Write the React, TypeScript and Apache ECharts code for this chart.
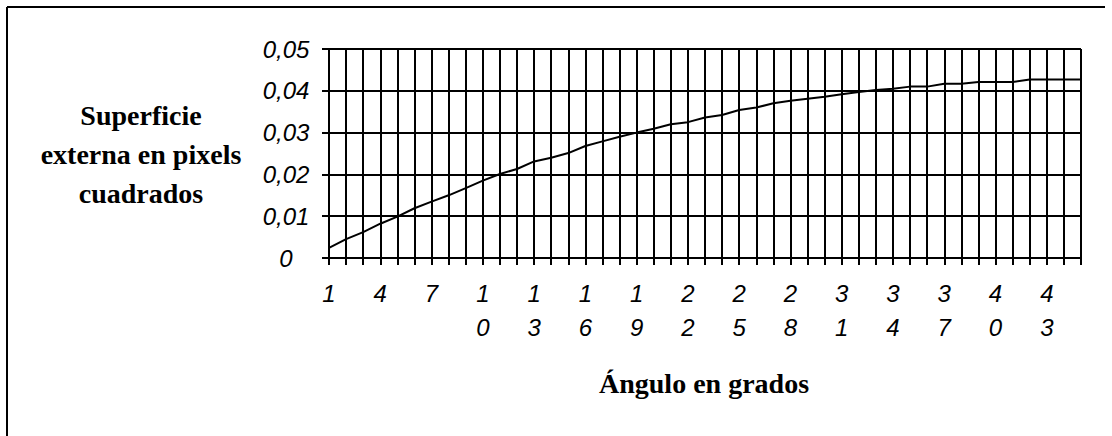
import React, { useEffect, useRef } from "react";
import * as echarts from "echarts";

// Angle in degrees (category axis)
const angles = [
  1, 2, 3, 4, 5, 6, 7, 8, 9, 10, 11, 12, 13, 14, 15, 16, 17, 18, 19, 20, 21, 22,
  23, 24, 25, 26, 27, 28, 29, 30, 31, 32, 33, 34, 35, 36, 37, 38, 39, 40, 41, 42,
  43, 44, 45,
];

// External surface in square pixels for each angle
const surface = [
  0.0024, 0.0045, 0.0062, 0.0082, 0.0099, 0.0119, 0.0135, 0.015, 0.0167, 0.0185,
  0.0201, 0.0213, 0.0231, 0.024, 0.0251, 0.0268, 0.0279, 0.029, 0.03, 0.0309,
  0.032, 0.0325, 0.0336, 0.0342, 0.0354, 0.036, 0.037, 0.0376, 0.0381, 0.0386,
  0.0392, 0.0397, 0.0402, 0.0405, 0.041, 0.041, 0.0417, 0.0417, 0.0421, 0.0421,
  0.0421, 0.0427, 0.0427, 0.0427, 0.0427,
];

// Y axis tick labels (decimal comma)
const yTickLabels = ["0", "0,01", "0,02", "0,03", "0,04", "0,05"];

const yTitle = "Superficie\nexterna en pixels\ncuadrados";
const xTitle = "Ángulo en grados";

const tickFont = "'Liberation Sans', Arial, sans-serif";
const titleFont = "'Liberation Serif', 'Times New Roman', serif";

export default function App() {
  const ref = useRef<HTMLDivElement>(null);

  useEffect(() => {
    if (!ref.current) return;
    const chart = echarts.init(ref.current, undefined, { renderer: "svg" });
    const black = "#000";
    chart.setOption({
      animation: false,
      backgroundColor: "#fff",
      grid: { left: 329, right: 31, top: 49, height: 209, containLabel: false },
      xAxis: {
        type: "category",
        data: angles.map(String),
        boundaryGap: false,
        axisLine: { show: true, lineStyle: { color: black, width: 2 } },
        axisTick: { show: true, interval: 0, length: 7, lineStyle: { color: black, width: 2 } },
        axisLabel: {
          interval: 2,
          margin: 18,
          color: black,
          fontFamily: tickFont,
          fontStyle: "italic",
          fontSize: 24,
          lineHeight: 34,
          formatter: (v: string) => v.split("").join("\n"),
        },
        splitLine: { show: true, interval: 0, lineStyle: { color: black, width: 2 } },
      },
      yAxis: {
        type: "value",
        min: 0,
        max: 0.05,
        interval: 0.01,
        axisLine: { show: true, lineStyle: { color: black, width: 2 } },
        axisTick: { show: true, length: 7, lineStyle: { color: black, width: 2 } },
        axisLabel: {
          margin: 43,
          align: "center",
          color: black,
          fontFamily: tickFont,
          fontStyle: "italic",
          fontSize: 24,
          formatter: (_v: number, i: number) => yTickLabels[i],
        },
        splitLine: { show: true, lineStyle: { color: black, width: 2 } },
      },
      series: [
        {
          type: "line",
          data: surface,
          symbol: "none",
          lineStyle: { color: black, width: 2 },
        },
      ],
      graphic: [
        {
          type: "line",
          shape: { x1: 7, y1: 7, x2: 1105, y2: 7 },
          style: { stroke: black, lineWidth: 2 },
        },
        {
          type: "line",
          shape: { x1: 7, y1: 7, x2: 7, y2: 436 },
          style: { stroke: black, lineWidth: 2 },
        },
        {
          type: "text",
          x: 141,
          y: 154,
          style: {
            text: yTitle,
            fill: black,
            font: `bold 28px ${titleFont}`,
            lineHeight: 39,
            align: "center",
            verticalAlign: "middle",
          },
        },
        {
          type: "text",
          x: 704,
          y: 383,
          style: {
            text: xTitle,
            fill: black,
            font: `bold 28px ${titleFont}`,
            align: "center",
            verticalAlign: "middle",
          },
        },
      ],
    });
    return () => chart.dispose();
  }, []);

  return (
    <div
      ref={ref}
      style={{ position: "absolute", left: 0, top: 0, width: 1112, height: 436, background: "#fff" }}
    />
  );
}
